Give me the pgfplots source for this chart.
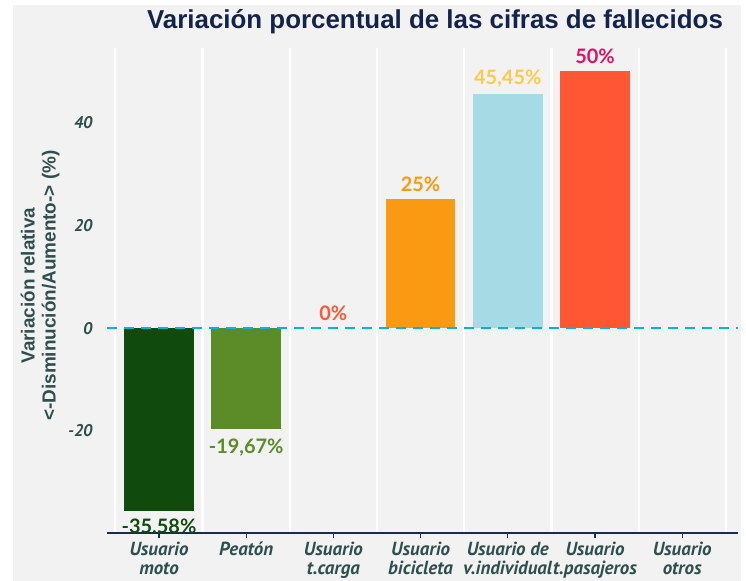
\documentclass[border=0pt]{standalone}
\usepackage{pgfplots}
\pgfplotsset{compat=1.18}
\usetikzlibrary{backgrounds,calc}
\usepackage{fontspec}
\setmainfont{PT Sans}
\newfontfamily\latofont{Lato}
\newfontfamily\libfont{Liberation Sans}
\definecolor{bgc}{HTML}{F2F2F2}
\definecolor{titlec}{HTML}{13234B}
\definecolor{tickc}{HTML}{2F4F4F}
\definecolor{navyc}{HTML}{1B2A55}
\definecolor{zeroc}{HTML}{00B4E6}
\definecolor{cmoto}{HTML}{104A0C}
\definecolor{cpeaton}{HTML}{5B8C28}
\definecolor{cbici}{HTML}{F99A12}
\definecolor{cindiv}{HTML}{A6DBE5}
\definecolor{cpasaj}{HTML}{FF5733}
\definecolor{lindiv}{HTML}{FFC94A}
\definecolor{lpasaj}{HTML}{E0115F}
\begin{document}
\begin{tikzpicture}[x=1bp,y=1bp]
\begin{axis}[
  scale only axis, width=631bp, height=485bp,
  xmin=-0.596, xmax=6.64, ymin=-39.8, ymax=54.4,
  ybar, bar width=0.8, bar shift=0pt,
  axis line style={draw=none},
  xtick={0,1,2,3,4,5,6},
  xticklabels={{Usuario\\moto},{Peatón},{Usuario\\t.carga},{Usuario\\bicicleta},{Usuario de\\v.individual},{Usuario\\t.pasajeros},{Usuario\\otros}},
  xticklabel style={align=center, font=\fontsize{19}{18.5}\selectfont\bfseries\itshape, text=tickc, anchor=north, inner sep=2bp, yshift=-2bp},
  minor xtick={-0.5,0.5,1.5,2.5,3.5,4.5,5.5,6.5},
  xminorgrids=true,
  minor grid style={white, line width=2.2bp},
  minor x tick style={draw=none},
  xtick pos=bottom, tick align=outside,
  major tick length=5bp,
  xtick style={draw=navyc, line width=1.3bp},
  ytick={-20,0,20,40},
  ytick style={draw=none},
  yticklabel style={font=\fontsize{17}{19}\selectfont\bfseries\itshape, text=tickc, xshift=-6bp},
  /pgf/number format/assume math mode=true,
  ylabel={Variación relativa\\<-Disminución/Aumento-> (\%)},
  ylabel style={at={(axis description cs:-0.106,0.51)}, anchor=center, align=center, font=\libfont\fontsize{19}{21}\selectfont\bfseries, text=tickc},
  nodes near coords style={font=\latofont\fontsize{20}{22}\selectfont\bfseries, inner sep=7bp},
  clip=false,
]
\coordinate (O) at (rel axis cs:0,0);
\addplot[fill=cmoto, draw=none, nodes near coords={-35.58\%}, every node near coord/.append style={text=cmoto}] coordinates {(0,-35.58)};
\addplot[fill=cpeaton, draw=none, nodes near coords={-19,67\%}, every node near coord/.append style={text=cpeaton, yshift=-2bp}] coordinates {(1,-19.67)};
\addplot[fill=none, draw=none, nodes near coords={0\%}, every node near coord/.append style={text=cpasaj}] coordinates {(2,0)};
\addplot[fill=cbici, draw=none, nodes near coords={25\%}, every node near coord/.append style={text=cbici}] coordinates {(3,25)};
\addplot[fill=cindiv, draw=none, nodes near coords={45,45\%}, every node near coord/.append style={text=lindiv}] coordinates {(4,45.45)};
\addplot[fill=cpasaj, draw=none, nodes near coords={50\%}, every node near coord/.append style={text=lpasaj}] coordinates {(5,50)};
\draw[zeroc, line width=2.6bp, dash pattern=on 10bp off 7bp] (axis cs:-0.596,0) -- (axis cs:6.64,0);
\draw[navyc, line width=1.8bp] (rel axis cs:0,0) -- (rel axis cs:1,0);
\end{axis}
\node[font=\libfont\fontsize{26}{30}\selectfont\bfseries, text=titlec] at ($(O)+(328,511)$) {Variación porcentual de las cifras de fallecidos};
\begin{scope}[on background layer]
\fill[bgc] ($(O)+(-94,-48)$) rectangle ++(728,576);
\end{scope}
\pgfresetboundingbox
\path[use as bounding box] ($(O)+(-107,-48)$) rectangle ++(746,581);
\end{tikzpicture}
\end{document}
